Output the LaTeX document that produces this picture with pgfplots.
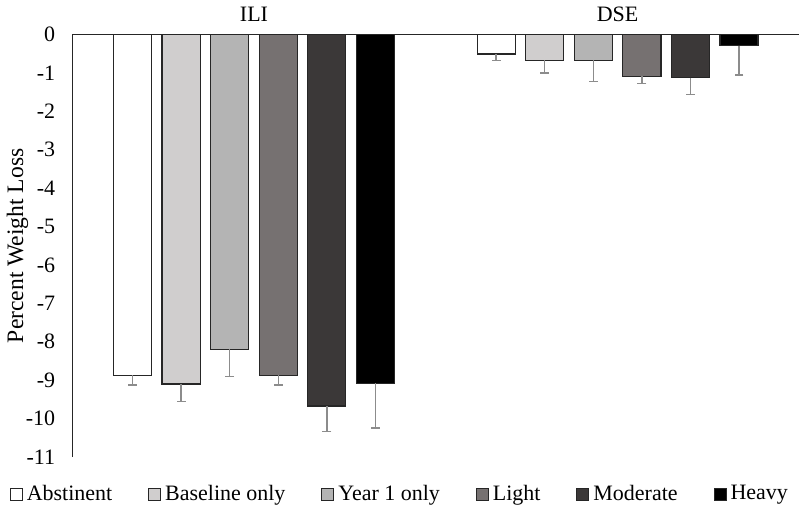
\documentclass[border=0pt]{standalone}
\usepackage{pgfplots}
\pgfplotsset{compat=1.18}
\usepackage{fontspec}
\setmainfont{Liberation Serif}
\definecolor{cBase}{HTML}{D0CECE}
\definecolor{cYear}{HTML}{B4B4B4}
\definecolor{cLight}{HTML}{767171}
\definecolor{cMod}{HTML}{3B3838}
\definecolor{cEdge}{HTML}{262626}
\definecolor{cErr}{HTML}{8C8C8C}
\begin{document}
\begin{tikzpicture}
\begin{axis}[
    scale only axis,
    width=364pt, height=211.5pt,
    xmin=-0.5, xmax=1.5,
    ymin=-11, ymax=0,
    axis x line=top, axis y line=left,
    axis line style={-, cEdge, line width=0.6pt},
    xtick={0,1}, xticklabels={ILI,DSE},
    ytick={-11,-10,...,0},
    yticklabels={-11,-10,-9,-8,-7,-6,-5,-4,-3,-2,-1,0},
    major tick length=0pt,
    tick label style={font=\fontsize{11}{13}\selectfont},
    yticklabel style={xshift=-5pt},
    xticklabel style={yshift=3pt},
    ylabel={Percent Weight Loss},
    ylabel shift=-8pt,
    ylabel style={font=\fontsize{11.8}{13}\selectfont},
    legend columns=6,
    legend style={draw=none, at={(0.452,-0.088)}, anchor=center,
        font=\fontsize{11}{13}\selectfont,
        /tikz/every even column/.append style={column sep=16pt},
        /tikz/every odd column/.append style={column sep=0pt}},
    legend image code/.code={\draw[#1, line width=0.5pt] (0pt,-3pt) rectangle (6pt,3pt);},
    eb/.style={error bars/.cd, y dir=minus, y explicit,
        error bar style={draw=cErr, line width=0.7pt},
        error mark options={rotate=90, draw=cErr, mark size=2.2pt, line width=0.7pt}},
    bars/.style={ybar, bar width=0.1047, bar shift=0, draw=cEdge, line width=0.6pt},
]
% x positions: group centre (0 = ILI, 1 = DSE) plus the bar's offset
\addplot[bars, fill=white, eb] coordinates {(-0.334,-8.87) +- (0,0.26) (0.666,-0.51) +- (0,0.17)};
\addlegendentry{Abstinent}
\addplot[bars, fill=cBase, eb] coordinates {(-0.2004,-9.10) +- (0,0.46) (0.7996,-0.67) +- (0,0.33)};
\addlegendentry{Baseline only}
\addplot[bars, fill=cYear, eb] coordinates {(-0.0668,-8.20) +- (0,0.70) (0.9332,-0.67) +- (0,0.55)};
\addlegendentry{Year 1 only}
\addplot[bars, fill=cLight, eb] coordinates {(0.0668,-8.87) +- (0,0.26) (1.0668,-1.09) +- (0,0.18)};
\addlegendentry{Light}
\addplot[bars, fill=cMod, eb] coordinates {(0.2004,-9.67) +- (0,0.66) (1.2004,-1.12) +- (0,0.45)};
\addlegendentry{Moderate}
\addplot[bars, fill=black, eb] coordinates {(0.334,-9.08) +- (0,1.16) (1.334,-0.29) +- (0,0.76)};
\addlegendentry{Heavy}
\end{axis}
\end{tikzpicture}
\end{document}
